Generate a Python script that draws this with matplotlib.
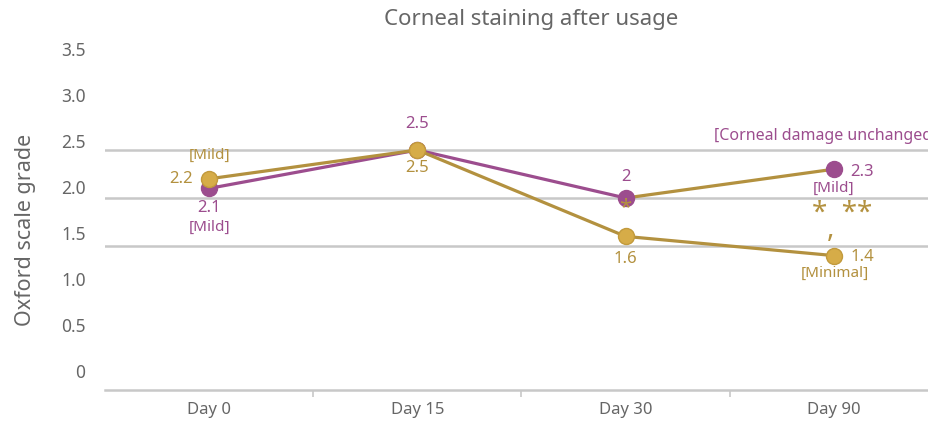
import matplotlib
matplotlib.use("Agg")
import matplotlib.pyplot as plt

plt.rcParams['font.family'] = ['Noto Sans', 'DejaVu Sans']

# data
days = ["Day 0", "Day 15", "Day 30", "Day 90"]
purple_vals = [2.1, 2.5, 2.0, 2.3]
gold_vals = [2.2, 2.5, 1.6, 1.4]
grid_vals = [1.5, 2.0, 2.5]
ytick_vals = [0, 0.5, 1.0, 1.5, 2.0, 2.5, 3.0, 3.5]
ytick_labels = ["0", "0.5", "1.0", "1.5", "2.0", "2.5", "3.0", "3.5"]

PURPLE = "#9C4D8E"
GOLD = "#B3913F"
GOLD_MK = "#D6AC48"
GREY = "#666666"

fig = plt.figure(figsize=(9.29, 4.28), dpi=100)
ax = fig.add_axes([105 / 929, 38 / 428, 833 / 929, 3.7 * 96 / 428])
x = list(range(len(days)))

# gridlines (only a few)
for g in grid_vals:
    ax.axhline(g, color="#C8C8C8", lw=1.8, zorder=1)

# purple series: last segment drawn gold as in the original
ax.plot(x[:3], purple_vals[:3], color=PURPLE, lw=2.3, zorder=2)
ax.plot(x[2:], purple_vals[2:], color=GOLD, lw=2.3, zorder=2)
ax.plot(x, purple_vals, 'o', color=PURPLE, ms=11.5, mec=PURPLE, zorder=3)

# gold series
ax.plot(x, gold_vals, color=GOLD, lw=2.3, zorder=4)
ax.plot(x, gold_vals, 'o', color=GOLD_MK, ms=11.5, mec="#C29A3C", mew=1, zorder=5)

ax.set_xlim(-0.5, 3.5)
ax.set_ylim(0, 3.7)

# axis styling
for s in ["top", "right", "left"]:
    ax.spines[s].set_visible(False)
ax.spines["bottom"].set_color("#C8C8C8")
ax.spines["bottom"].set_linewidth(1.8)

ax.set_xticks([0.5, 1.5, 2.5], minor=False)
ax.set_xticklabels([])
ax.tick_params(axis='x', which='major', length=5, color="#C8C8C8", width=1.2)
ax.set_xticks(x, minor=True)
ax.set_xticklabels(days, minor=True)
ax.tick_params(axis='x', which='minor', length=0, pad=9, labelsize=12, labelcolor=GREY)

# y tick labels sit a little off the data scale in the original
ytick_pos = [(19 + 92 * v) / 96 for v in ytick_vals]
ax.set_yticks(ytick_pos)
ax.set_yticklabels(ytick_labels)
ax.tick_params(axis='y', length=0, pad=14, labelsize=12.5, labelcolor=GREY)

fig.text(531 / 929, 1 - 20 / 428, "Corneal staining after usage", ha="center", va="center",
         fontsize=16, color=GREY)
fig.text(26 / 929, 1 - 230 / 428, "Oxford scale grade", ha="center", va="center",
         rotation=90, fontsize=15.5, color=GREY)

# value labels
fs = 12
ax.annotate("2.2", (0, gold_vals[0]), xytext=(-12, 0), textcoords="offset points",
            ha="right", va="center", color=GOLD, fontsize=fs)
ax.annotate("[Mild]", (0, gold_vals[0]), xytext=(0, 17), textcoords="offset points",
            ha="center", va="center", color=GOLD, fontsize=11)
ax.annotate("2.1", (0, purple_vals[0]), xytext=(0, -14), textcoords="offset points",
            ha="center", va="center", color=PURPLE, fontsize=fs)
ax.annotate("[Mild]", (0, purple_vals[0]), xytext=(0, -28), textcoords="offset points",
            ha="center", va="center", color=PURPLE, fontsize=11)

ax.annotate("2.5", (1, purple_vals[1]), xytext=(0, 19), textcoords="offset points",
            ha="center", va="center", color=PURPLE, fontsize=fs)
ax.annotate("2.5", (1, gold_vals[1]), xytext=(0, -13), textcoords="offset points",
            ha="center", va="center", color=GOLD, fontsize=fs)

ax.annotate("2", (2, purple_vals[2]), xytext=(0, 15), textcoords="offset points",
            ha="center", va="center", color=PURPLE, fontsize=fs)
ax.annotate("*", (2, purple_vals[2]), xytext=(0, -7), textcoords="offset points",
            ha="center", va="center", color=GOLD, fontsize=16)
ax.annotate("1.6", (2, gold_vals[2]), xytext=(0, -16), textcoords="offset points",
            ha="center", va="center", color=GOLD, fontsize=fs,
            bbox=dict(boxstyle="square,pad=0.15", fc="white", ec="none"))

ax.annotate("2.3", (3, purple_vals[3]), xytext=(12, -2), textcoords="offset points",
            ha="left", va="center", color=PURPLE, fontsize=fs)
ax.annotate("[Mild]", (3, purple_vals[3]), xytext=(0, -14), textcoords="offset points",
            ha="center", va="center", color=PURPLE, fontsize=11)
ax.annotate("[Corneal damage unchanged]", (3, purple_vals[3]), xytext=(-86, 24),
            textcoords="offset points", ha="left", va="center", color=PURPLE,
            fontsize=11.5, annotation_clip=False)
ax.annotate("*  **", (3, purple_vals[3]), xytext=(6, -32), textcoords="offset points",
            ha="center", va="center", color=GOLD, fontsize=20, fontweight="bold")
ax.annotate(",", (3, purple_vals[3]), xytext=(-2, -44), textcoords="offset points",
            ha="center", va="center", color=GOLD, fontsize=20, fontweight="bold")
ax.annotate("1.4", (3, gold_vals[3]), xytext=(12, -1), textcoords="offset points",
            ha="left", va="center", color=GOLD, fontsize=fs)
ax.annotate("[Minimal]", (3, gold_vals[3]), xytext=(1, -13), textcoords="offset points",
            ha="center", va="center", color=GOLD, fontsize=11)

fig.savefig("out.png", dpi=100)
